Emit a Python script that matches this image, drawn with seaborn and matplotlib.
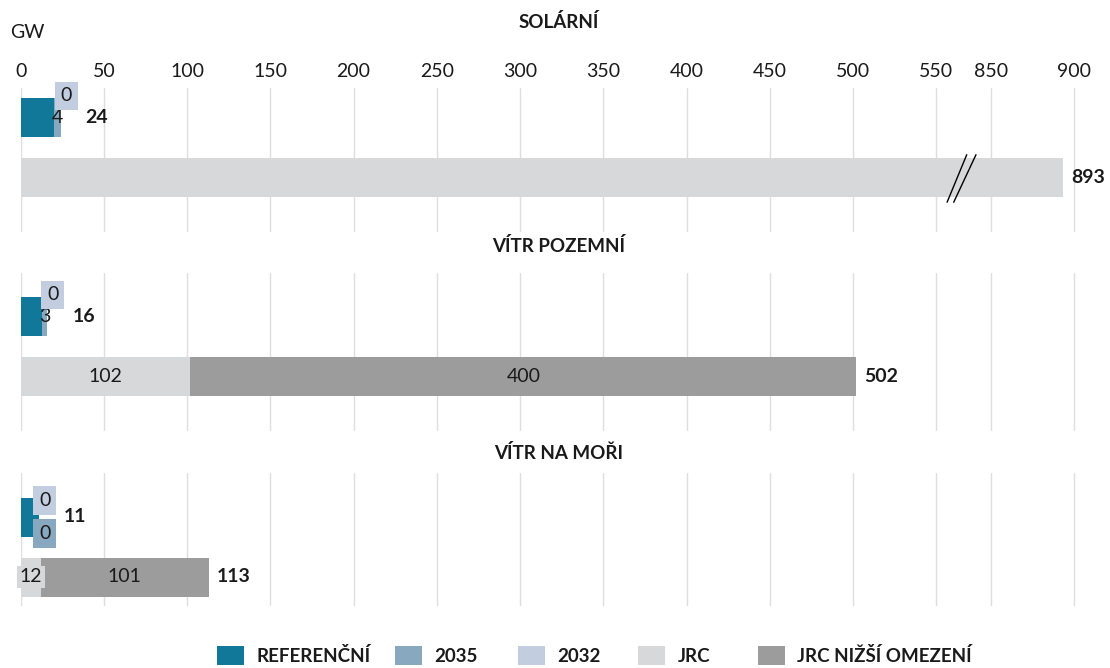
import numpy as np
import pandas as pd
import seaborn as sns
import matplotlib.pyplot as plt
from matplotlib.patches import Patch
from matplotlib.path import Path

# Data (GW)
panels = ["SOLÁRNÍ", "VÍTR POZEMNÍ", "VÍTR NA MOŘI"]
ref_vals = [20, 13, 11]
y2035_vals = [4, 3, 0]
y2032_vals = [0, 0, 0]
jrc_vals = [893, 102, 12]
jrc_low_vals = [0, 400, 101]
x_ticks = [0, 50, 100, 150, 200, 250, 300, 350, 400, 450, 500, 550, 850, 900]

series = ["REFERENČNÍ", "2035", "2032", "JRC", "JRC NIŽŠÍ OMEZENÍ"]
colors = {
    "REFERENČNÍ": "#12789A",
    "2035": "#87A8BE",
    "2032": "#C3CDE0",
    "JRC": "#D7D8DA",
    "JRC NIŽŠÍ OMEZENÍ": "#9C9C9C",
}
TXT = "#1a1a1a"

# broken axis: 550 -> 850 squeezed into a small gap
BREAK_LO, BREAK_HI, GAP = 550, 850, 33


def fwd(x):
    x = np.asarray(x, dtype=float)
    mid = BREAK_LO + (x - BREAK_LO) * GAP / (BREAK_HI - BREAK_LO)
    hi = x - (BREAK_HI - BREAK_LO - GAP)
    return np.where(x <= BREAK_LO, x, np.where(x < BREAK_HI, mid, hi))


def inv(y):
    y = np.asarray(y, dtype=float)
    mid = BREAK_LO + (y - BREAK_LO) * (BREAK_HI - BREAK_LO) / GAP
    hi = y + (BREAK_HI - BREAK_LO - GAP)
    return np.where(y <= BREAK_LO, y, np.where(y < BREAK_LO + GAP, mid, hi))


sns.set_theme(style="white")
plt.rcParams["font.family"] = ["Lato", "DejaVu Sans"]

W, H = 1110, 668
fig = plt.figure(figsize=(W / 100, H / 100), dpi=100)

# panel layout in pixels: (top, bottom, center of first row)
layout = [(88, 232, 117.5), (273, 431, 316.5), (473, 606, 517)]
title_y = [22, 246, 453]
row_px = 60
left_px, right_px = 20.7, 1091
rows = ["top", "jrc"]
draw_order = ["2032", "2035", "REFERENČNÍ", "JRC NIŽŠÍ OMEZENÍ", "JRC"]

for i, name in enumerate(panels):
    top, bottom, c0 = layout[i]
    ax = fig.add_axes([left_px / W, 1 - bottom / H,
                       (right_px - left_px) / W, (bottom - top) / H])

    ref, s35, s32 = ref_vals[i], y2035_vals[i], y2032_vals[i]
    jrc, low = jrc_vals[i], jrc_low_vals[i]

    # cumulative values, drawn biggest first so each overlays the previous
    df = pd.DataFrame({
        "row": ["top", "top", "top", "jrc", "jrc"],
        "series": ["2032", "2035", "REFERENČNÍ", "JRC NIŽŠÍ OMEZENÍ", "JRC"],
        "value": [ref + s35 + s32, ref + s35, ref, jrc + low, jrc],
    })
    sns.barplot(data=df, x="value", y="row", hue="series", order=rows,
                hue_order=draw_order, palette=colors, dodge=False,
                orient="h", width=0.65, saturation=1, errorbar=None,
                linewidth=0, legend=False, ax=ax)

    ax.set_xscale("function", functions=(fwd, inv))
    ax.set_xlim(0, 910)
    ax.set_xticks(x_ticks)
    ax.set_xticklabels([str(t) for t in x_ticks])
    ax.set_ylim((bottom - c0) / row_px, (top - c0) / row_px)
    ax.set_yticks([])
    ax.set_xlabel("")
    ax.set_ylabel("")
    ax.grid(axis="x", color="#DEDEDE", linewidth=1.0)
    ax.set_axisbelow(True)
    for s in ax.spines.values():
        s.set_visible(False)
    if i == 0:
        ax.xaxis.tick_top()
        ax.tick_params(axis="x", length=0, pad=6, labelsize=14,
                       labelcolor=TXT, top=False)
    else:
        ax.tick_params(axis="x", length=0, labelbottom=False, labeltop=False)

    fig.text(559 / W, 1 - title_y[i] / H, name, ha="center", va="center",
             fontsize=13.5, fontweight="bold", color=TXT)

    # --- labels, top row
    total_top = ref + s35 + s32
    if s35 > 0:
        ax.annotate(str(s35), (ref + s35 / 2, 0), ha="center", va="center",
                    fontsize=14, color=TXT)
    zeros = []
    if s32 == 0:
        zeros.append("2032")
    if s35 == 0:
        zeros.append("2035")
    offs = {1: [-0.36], 2: [-0.28, 0.27]}.get(len(zeros), [])
    for key, dy in zip(zeros, offs):
        ax.annotate("0", (total_top, dy), xytext=(4, 0),
                    textcoords="offset points", ha="center", va="center",
                    fontsize=14, color=TXT,
                    bbox=dict(boxstyle="square,pad=0.3", fc=colors[key], ec="none"))
    ax.annotate(str(total_top), (total_top, 0), xytext=(18, 0),
                textcoords="offset points", ha="left", va="center",
                fontsize=14, fontweight="bold", color=TXT)

    # --- labels, JRC row
    if low > 0:
        small = fwd(jrc) * 1.667 < 40
        ax.annotate(str(jrc), (jrc / 2, 1), ha="center", va="center",
                    fontsize=14, color=TXT,
                    bbox=dict(boxstyle="square,pad=0.15", fc=colors["JRC"],
                              ec="none") if small else None)
        ax.annotate(str(low), (jrc + low / 2, 1), ha="center", va="center",
                    fontsize=14, color=TXT)
    ax.annotate(str(jrc + low), (jrc + low, 1), xytext=(6, 0),
                textcoords="offset points", ha="left", va="center",
                fontsize=14, fontweight="bold", color=TXT)

    # axis-break mark on bars crossing the gap
    if jrc + low > BREAK_HI:
        brk = Path([(-14.6, -24.2), (5.4, 24.2), (-8, -24.2), (14.7, 24.2)],
                   [Path.MOVETO, Path.LINETO, Path.MOVETO, Path.LINETO])
        ax.plot([(BREAK_LO + BREAK_HI) / 2 - 12], [1], marker=brk,
                markersize=34.8, markeredgecolor="black",
                markerfacecolor="none", markeredgewidth=1.0,
                linestyle="none", clip_on=False)

fig.text(10 / W, 1 - 33 / H, "GW", ha="left", va="center", fontsize=14,
         color=TXT)

# legend: one entry per slot, laid out like the original
legend_x = [217, 395, 518, 638, 758]
for s, lx in zip(series, legend_x):
    fig.legend([Patch(facecolor=colors[s], edgecolor="none")], [s],
               loc="center left", bbox_to_anchor=(lx / W, 1 - 655.5 / H),
               frameon=False, borderpad=0, borderaxespad=0,
               handlelength=1.45, handleheight=1.25, handletextpad=0.65,
               prop=dict(weight="bold", size=13.5), labelcolor=TXT)

fig.savefig("out.png", dpi=100)
